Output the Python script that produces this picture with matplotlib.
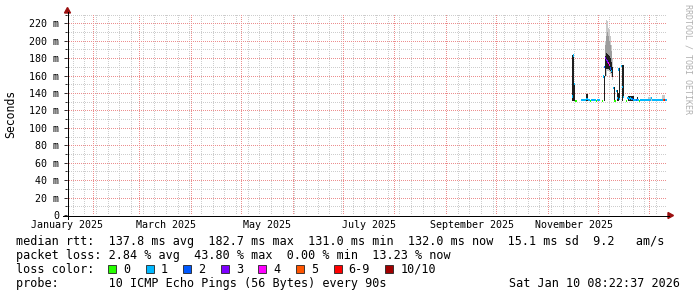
import numpy as np
import matplotlib
matplotlib.use("Agg")
import matplotlib.pyplot as plt
import matplotlib.dates as mdates
from matplotlib.colors import to_rgba
from matplotlib.lines import Line2D
from matplotlib.patches import Polygon, Rectangle
from matplotlib.ticker import MultipleLocator, FuncFormatter
from datetime import datetime, timedelta

W, H = 697, 297
nan = np.nan

# graph window: last 360 days
t_start = datetime(2025, 1, 16, 5, 0)
t_end = datetime(2026, 1, 11, 5, 0)
y_top = 230.6  # ms

# rrd rows: one every 14.4 h from here on
first_sample = datetime(2025, 11, 15, 5, 0)
step_hours = 14.4

# median rtt (ms), nan = unknown
median_ms = [
    136, 183, 150, 131, 131, nan, nan, nan, nan, 132,
    132, 132, 132, 132, 133, 133, 132, 132, 131, 132,
    132, 132, 132, 132, 131, 132, 132, 132, nan, nan,
    131, 159, 170, 180, 178, 176, 174, 172, 168, 165,
    nan, 146, 131, 131, 142, 134, 167, 133, nan, 171,
    147, 135, nan, nan, 131, 134, 134, 133, 134, 133,
    133, 132, 132, 132, 132, 132, 132, 131, 132, 132,
    132, 132, 132, 132, 132, 132, 132, 132, 132, 134,
    132, 132, 132, 132, 132, 132, 132, 132, 132, 132,
    132, 132, 132, 132, 132,
]
# lost pings out of 10
loss = [
    1, 1, 1, 0, 0, 0, 0, 0, 0, 1,
    1, 1, 1, 1, 1, 1, 1, 1, 0, 1,
    1, 1, 1, 1, 0, 1, 1, 1, 0, 0,
    0, 1, 2, 3, 3, 3, 4, 4, 2, 1,
    0, 1, 0, 0, 1, 1, 1, 1, 0, 1,
    1, 1, 0, 0, 0, 1, 1, 1, 1, 1,
    2, 1, 1, 1, 2, 1, 1, 0, 1, 1,
    1, 1, 1, 1, 1, 1, 1, 1, 1, 1,
    1, 1, 1, 1, 1, 1, 1, 1, 1, 1,
    1, 5, 7, 1, 1,
]

# smoke: inner pings (dark)
core_idx = [0, 1, 2, 14, 15, 32, 33, 34, 35, 36, 37, 38, 39, 40, 42, 45, 46, 47, 50, 51,
            56, 57, 58, 59, 60, 61, 65]
core_lo = [131, 131, 131, 131, 131, 131, 160, 168, 167, 167, 166, 165, 163, 158, 131, 131, 131, 134, 131, 135,
           131, 131, 131, 131, 131, 131, 131]
core_hi = [184, 184, 152, 139, 139, 160, 182, 186, 185, 183, 182, 180, 176, 170, 147, 143, 140, 169, 172, 172,
           136, 136, 136, 136, 136, 136, 135]
# middle pings
mid_idx = [33, 34, 35, 36, 37, 38, 39]
mid_lo = [182, 186, 185, 183, 182, 180, 176]
mid_hi = [195, 205, 210, 205, 200, 195, 188]
# outer pings (light)
outer_idx = [33, 34, 35, 36, 37, 38, 39, 40, 76, 77, 78, 79, 90, 91, 92]
outer_lo = [158, 160, 165, 165, 164, 162, 160, 155, 131, 131, 131, 131, 131, 131, 131]
outer_hi = [200, 224, 222, 215, 212, 205, 195, 180, 135.5, 135.5, 135.5, 135.5, 137.5, 137.5, 137.5]

loss_labels = ["0", "1", "2", "3", "4", "5", "6-9", "10/10"]
loss_colors = ["#26ff00", "#00b8ff", "#0059ff", "#7e00ff", "#ff00ff", "#ff5500", "#ff0000", "#a10000"]

month_labels = ["January 2025", "March 2025", "May 2025", "July 2025", "September 2025", "November 2025"]
label_months = [(2025, 1), (2025, 3), (2025, 5), (2025, 7), (2025, 9), (2025, 11)]

legend_rows = [
    "median rtt:  137.8 ms avg  182.7 ms max  131.0 ms min  132.0 ms now  15.1 ms sd  9.2   am/s",
    "packet loss: 2.84 % avg  43.80 % max  0.00 % min  13.23 % now",
    "loss color:",
    "probe:       10 ICMP Echo Pings (56 Bytes) every 90s",
]
stamp = "Sat Jan 10 08:22:37 2026"

mono = "DejaVu Sans Mono"
plt.rcParams["font.family"] = mono
grid_major = "#ec8e8e"
grid_minor = "#cdcdcd"
arrow_red = "#9b1010"


def fx(px):
    return px / W


def fy(py):
    return 1 - py / H


def loss_color(n):
    if n >= 10:
        return loss_colors[7]
    if n >= 6:
        return loss_colors[6]
    return loss_colors[int(n)]


NX, NY = 600, 201  # plot area in pixels, left edge x=67, bottom edge y=215
fig = plt.figure(figsize=(W / 100, H / 100), dpi=100)
fig.patch.set_facecolor("white")
ax = fig.add_axes([fx(67), fy(215), NX / W, NY / H])
ax.patch.set_visible(False)

xmin, xmax = mdates.date2num(t_start), mdates.date2num(t_end)
ax.set_xlim(xmin, xmax)
ax.set_ylim(0, y_top)

# dotted rrdtool grid, one screen pixel per array cell
ymaj = MultipleLocator(20).tick_values(0, y_top)
ymin_ = MultipleLocator(10).tick_values(0, y_top)
xmaj = mdates.MonthLocator().tick_values(t_start, t_end)
xmin_ = mdates.WeekdayLocator(byweekday=mdates.MO).tick_values(t_start, t_end)
grid = np.zeros((NY, NX, 4), dtype=np.uint8)


def rgba8(c):
    return (np.array(to_rgba(c)) * 255).astype(np.uint8)


def hline(v, col):
    r = int(round(NY - v / y_top * NY))
    if 0 <= r < NY:
        grid[r, 0::2] = col


def vline(d, col):
    c = int((d - xmin) / (xmax - xmin) * NX)
    if 0 < c < NX:
        grid[1::2, c] = col


for v in ymin_:
    if v > 0:
        hline(v, rgba8(grid_minor))
for d in xmin_:
    vline(d, rgba8(grid_minor))
for v in ymaj:
    if v > 0:
        hline(v, rgba8(grid_major))
for d in xmaj:
    vline(d, rgba8(grid_major))
fig.figimage(grid, xo=67, yo=H - 215, origin="upper", zorder=-1)

x0 = mdates.date2num(first_sample)
step = step_hours / 24.0
xs = x0 + step * np.arange(len(median_ms))
med = np.array(median_ms, dtype=float)


def smoke(idx, lo, hi, color):
    lo = np.array(lo, dtype=float)
    hi = np.array(hi, dtype=float)
    ax.bar(xs[idx], hi - lo, bottom=lo, width=step, align="edge",
           color=color, linewidth=0, antialiased=False, zorder=2)


smoke(outer_idx, outer_lo, outer_hi, "#c8c8c8")
smoke(mid_idx, mid_lo, mid_hi, "#9c9c9c")
smoke(core_idx, core_lo, core_hi, "#1e1e1e")

# median marks coloured by loss
ok = ~np.isnan(med)
ax.bar(xs[ok], 2.6, bottom=med[ok] - 1.3, width=step, align="edge",
       color=[loss_color(loss[i]) for i in np.where(ok)[0]],
       linewidth=0, antialiased=False, zorder=3)

ax.set_xlim(xmin, xmax)
ax.set_ylim(0, y_top)
for s in ax.spines.values():
    s.set_visible(False)

ax.yaxis.set_major_locator(MultipleLocator(20))
ax.yaxis.set_minor_locator(MultipleLocator(10))
ax.yaxis.set_major_formatter(FuncFormatter(lambda v, p: "0" if v == 0 else f"{v:.0f} m"))
ax.set_xticks([])
ax.tick_params(axis="y", which="major", length=2.5, width=0.72, color="#333333",
               labelsize=7.2, pad=3)
ax.tick_params(axis="y", which="minor", length=1.5, width=0.72, color="#333333")

# month labels sit in the middle of their month
for (yr, mo), txt in zip(label_months, month_labels):
    xm = mdates.date2num(datetime(yr, mo, 1) + timedelta(days=15.5))
    ax.text(xm, -12.8 / NY, txt, transform=ax.get_xaxis_transform(),
            ha="center", va="baseline", fontsize=7.2)

# axes with arrows
fig.add_artist(Line2D([fx(67.5), fx(67.5)], [fy(219), fy(12)], color="black", lw=0.72))
fig.add_artist(Line2D([fx(63), fx(669)], [fy(215.5), fy(215.5)], color="black", lw=0.72))
fig.add_artist(Polygon([[fx(64.5), fy(13)], [fx(70.5), fy(13)], [fx(67.5), fy(7.5)]],
                       closed=True, color=arrow_red, transform=fig.transFigure))
fig.add_artist(Polygon([[fx(668), fy(212.5)], [fx(668), fy(218.5)], [fx(673.5), fy(215.5)]],
                       closed=True, color=arrow_red, transform=fig.transFigure))

fig.text(fx(10.8), fy(114), "Seconds", rotation=90, ha="center", va="center", fontsize=8.3)
fig.text(fx(688), fy(59), "RRDTOOL / TOBI OETIKER", rotation=270, ha="center", va="center",
         fontsize=6.0, color="#b0b0b0")

# legend block
baselines = [245, 259, 273, 287]
for row, yb in zip(legend_rows, baselines):
    fig.text(fx(16), fy(yb), row, ha="left", va="baseline", fontsize=8.5)
fig.text(fx(680), fy(287), stamp, ha="right", va="baseline", fontsize=8.5)

char_w = 7.1
bx = 108
for lab, col in zip(loss_labels, loss_colors):
    fig.add_artist(Rectangle((fx(bx), fy(273)), 8 / W, 8 / H, transform=fig.transFigure,
                             facecolor=col, edgecolor="#222222", linewidth=0.6))
    fig.text(fx(bx + 15), fy(273), lab, ha="left", va="baseline", fontsize=8.5)
    bx = bx + 15 + len(lab) * char_w + 15.5

fig.savefig("out.png", dpi=100, facecolor="white")
